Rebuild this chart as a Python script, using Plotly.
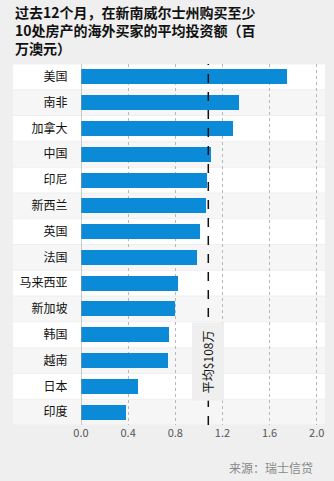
import plotly.graph_objects as go

countries = ["美国", "南非", "加拿大", "中国", "印尼", "新西兰", "英国", "法国",
             "马来西亚", "新加坡", "韩国", "越南", "日本", "印度"]
values = [1.75, 1.34, 1.29, 1.10, 1.07, 1.06, 1.01, 0.98, 0.82, 0.80, 0.75, 0.74, 0.48, 0.38]
average = 1.08
avg_label = "平均$108万"
tick_vals = [0.0, 0.4, 0.8, 1.2, 1.6, 2.0]
tick_text = ["0.0", "0.4", "0.8", "1.2", "1.6", "2.0"]
title = "过去12个月，在新南威尔士州购买至少<br>10处房产的海外买家的平均投资额（百<br>万澳元）"
source = "来源：瑞士信贷"

FONT = "Noto Sans CJK SC"
BG = "#efefef"

n = len(countries)
ypos = list(range(n))

fig = go.Figure()
fig.add_trace(go.Bar(
    x=values, y=ypos, orientation="h",
    marker=dict(color="#0b8bd7", line=dict(width=0)),
    width=0.58, hoverinfo="skip",
))

shapes = []
for i in range(n):
    shapes.append(dict(
        type="rect", xref="paper", yref="y",
        x0=-0.279, x1=1.0, y0=i - 0.5 + 0.02, y1=i + 0.5 - 0.02,
        fillcolor="#ffffff" if i % 2 == 0 else "#f6f6f6",
        line=dict(width=0), layer="below",
    ))
shapes.append(dict(
    type="line", xref="x", yref="paper", x0=average, x1=average, y0=0, y1=1,
    line=dict(color="#111111", width=1.5, dash="dash"), layer="above",
))

fig.update_layout(
    width=334, height=481,
    margin=dict(l=81, r=9, t=64, b=56),
    paper_bgcolor=BG, plot_bgcolor=BG,
    showlegend=False,
    bargap=0,
    shapes=shapes,
    font=dict(family=FONT, color="#111111"),
    xaxis=dict(
        range=[0, 2.07], tickvals=tick_vals, ticktext=tick_text,
        showgrid=True, gridcolor="#b8b8b8", griddash="dot", gridwidth=1,
        zeroline=False, showline=False,
        tickfont=dict(size=11, color="#555555", family=FONT),
        ticks="", fixedrange=True,
    ),
    yaxis=dict(
        range=[n - 0.5, -0.5], tickvals=ypos, ticktext=countries,
        showgrid=False, zeroline=False, showline=False,
        tickfont=dict(size=12, color="#111111", family=FONT),
        ticks="outside", ticklen=10, tickcolor="rgba(0,0,0,0)",
        fixedrange=True,
    ),
    annotations=[
        dict(text="<b>" + title + "</b>", xref="paper", yref="paper",
             x=-0.279, y=1.0, yshift=64, xanchor="left", yanchor="top",
             align="left", showarrow=False,
             font=dict(size=14, color="#111111", family=FONT)),
        dict(text=avg_label, xref="x", yref="y", x=average, y=11.05,
             textangle=-90, showarrow=False, bgcolor=BG, borderpad=7,
             font=dict(size=12, color="#111111", family=FONT)),
        dict(text=source, xref="paper", yref="paper", x=0.96, y=0, yshift=-42,
             xanchor="right", yanchor="middle", showarrow=False,
             font=dict(size=12, color="#888888", family=FONT)),
    ],
)

# zero axis line
fig.add_shape(type="line", xref="x", yref="paper", x0=0, x1=0, y0=0, y1=1,
              line=dict(color="#999999", width=1), layer="above")

fig.write_html("out.html")
